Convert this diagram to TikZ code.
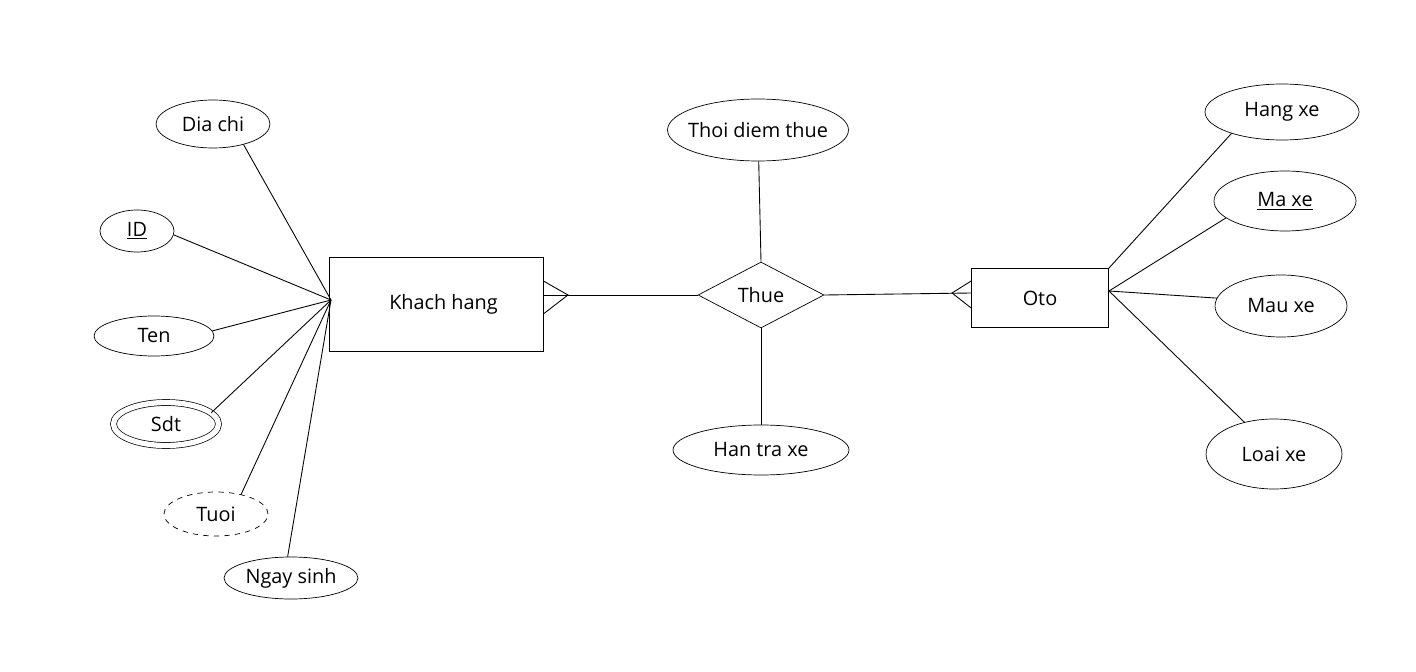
\documentclass[tikz,border=0pt]{standalone}
\usepackage{fontspec}
\setmainfont{Open Sans}
\usetikzlibrary{shapes.geometric, positioning}

\begin{document}
\begin{tikzpicture}[
    x=0.02cm, y=-0.02cm,
    every node/.style={font=\fontsize{11.3}{13}\selectfont},
    entity/.style={draw, rectangle, inner sep=0pt},
    attr/.style={draw, ellipse, inner sep=0pt},
    multiattr/.style={draw, ellipse, inner sep=0pt, double distance=3pt},
    derived/.style={draw, ellipse, inner sep=0pt, dashed},
    relation/.style={draw, diamond, inner sep=0pt, aspect=1.9},
    link/.style={line width=0.5pt}
]
    \useasboundingbox (0,0) rectangle (1416,672);

    % Entities
    \node[entity, minimum width=4.28cm, minimum height=1.88cm] (kh) at (436,304) {\hspace{0.3cm}Khach hang};
    \node[entity, minimum width=2.74cm, minimum height=1.18cm] (oto) at (1040,298) {Oto};
    \node[relation, minimum width=2.52cm, minimum height=1.32cm] (thue) at (761,295) {Thue};

    % Khach hang attributes
    \node[attr, minimum width=2.28cm, minimum height=0.96cm] (diachi) at (213,124) {Dia chi};
    \node[attr, minimum width=1.48cm, minimum height=0.84cm] (id) at (137,231) {\underline{ID}};
    \node[attr, minimum width=2.40cm, minimum height=0.80cm] (ten) at (154,336) {Ten};
    \node[multiattr, minimum width=2.10cm, minimum height=0.86cm] (sdt) at (166,424) {Sdt};
    \node[derived, minimum width=2.08cm, minimum height=0.88cm] (tuoi) at (216,514) {Tuoi};
    \node[attr, minimum width=2.68cm, minimum height=0.84cm] (ngaysinh) at (291,578) {Ngay sinh};

    % Thue attributes
    \node[attr, inner xsep=-3.7pt, minimum width=3.62cm, minimum height=1.24cm] (thoidiem) at (758,130) {Thoi diem thue};
    \node[attr, minimum width=3.52cm, minimum height=1.00cm] (hantra) at (761,450) {Han tra xe};

    % Oto attributes
    \node[attr, minimum width=3.08cm, minimum height=1.12cm] (hangxe) at (1282,112) {Hang xe};
    \node[attr, minimum width=2.84cm, minimum height=1.20cm] (maxe) at (1285,201) {\underline{Ma xe}};
    \node[attr, minimum width=2.64cm, minimum height=1.24cm] (mauxe) at (1281,306) {Mau xe};
    \node[attr, minimum width=2.72cm, minimum height=1.40cm] (loaixe) at (1274,454) {Loai xe};

    \coordinate (khub) at (331,300);
    \coordinate (ohub) at (1109,291);
    \coordinate (kcrow) at (568,295);
    \coordinate (ocrow) at (952,293);

    % Lines
    \foreach \a/\ang in {diachi/-34, id/-6, ten/5, sdt/14, tuoi/38, ngaysinh/99}
        \draw[link] (\a.\ang) -- (khub);
    \draw[link] (hangxe.203) -- (oto.north east);
    \foreach \a/\ang in {maxe/196, mauxe/173, loaixe/133}
        \draw[link] (\a.\ang) -- (ohub);
    \draw[link] (thoidiem) -- (thue.north);
    \draw[link] (thue.south) -- (hantra);

    \draw[link] (kh.east |- thue.west) -- (thue.west);
    \draw[link] (kh.east |- 0,281) -- (kcrow) -- (kh.east |- 0,314);
    \draw[link] (thue.east) -- (oto.west |- ocrow);
    \draw[link] (oto.west |- 0,281) -- (ocrow) -- (oto.west |- 0,308);
\end{tikzpicture}
\end{document}
